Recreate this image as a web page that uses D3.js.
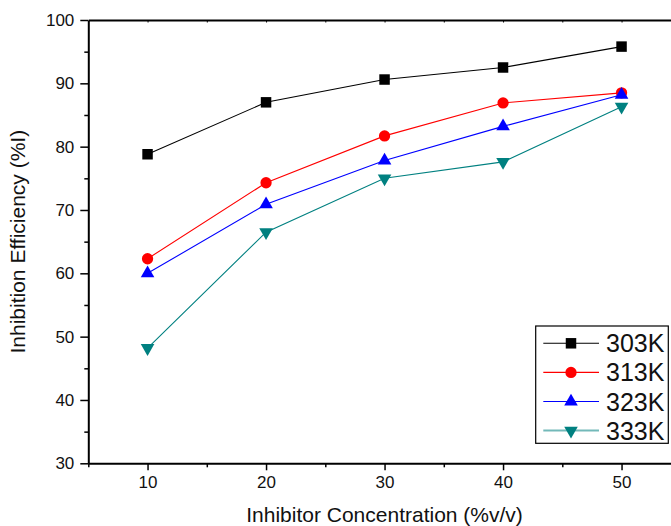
<!DOCTYPE html>
<html>
<head>
<meta charset="utf-8">
<script src="https://cdn.jsdelivr.net/npm/d3@7"></script>
<style>
  body { margin: 0; background: #fff; }
  svg { display: block; font-family: 'Liberation Sans', Arial, sans-serif; }
  .axis path, .axis line { stroke: #000; }
  .axis text { font-size: 17px; fill: #111; }
</style>
</head>
<body>
<svg id="chart" width="671" height="526"></svg>
<script>
const concentrations = [10, 20, 30, 40, 50]
const seriesNames = ['303K', '313K', '323K', '333K']
const ie303 = [78.8, 87.0, 90.6, 92.5, 95.8]
const ie313 = [62.3, 74.3, 81.7, 86.9, 88.5]
const ie323 = [60.0, 70.9, 77.8, 83.2, 88.2]
const ie333 = [48.2, 66.5, 75.0, 77.6, 86.3]
const yTicks = [30, 40, 50, 60, 70, 80, 90, 100]
const xTicks = [10, 20, 30, 40, 50]

const colors = ['#000000', '#ff0000', '#0000ff', '#008080']
const symbols = [d3.symbolSquare, d3.symbolCircle, d3.symbolTriangle, 'down']

const series = seriesNames.map((name, i) => ({
  name: name,
  color: colors[i],
  symbol: symbols[i],
  values: [ie303, ie313, ie323, ie333][i].map((v, j) => ({ x: concentrations[j], y: v }))
}))

const svg = d3.select('#chart')
const plotLeft = 88.3, plotRight = 680.8, plotTop = 20, plotBottom = 463.3

const x = d3.scaleLinear().domain([5, 55]).range([plotLeft, plotRight])
const y = d3.scaleLinear().domain([30, 100]).range([plotBottom, plotTop])

// minor ticks first so majors draw over
svg.append('g')
  .attr('class', 'axis')
  .attr('transform', 'translate(' + plotLeft + ',0)')
  .call(d3.axisLeft(y).tickValues(d3.range(35, 100, 10)).tickSize(4).tickFormat(''))
  .call(g => g.select('.domain').remove())
  .selectAll('line').attr('stroke-width', 1.5)

svg.append('g')
  .attr('class', 'axis')
  .attr('transform', 'translate(0,' + plotBottom + ')')
  .call(d3.axisBottom(x).tickValues([5, 15, 25, 35, 45, 55]).tickSize(4).tickFormat(''))
  .call(g => g.select('.domain').remove())
  .selectAll('line').attr('stroke-width', 1.5)

// top axis, small inner ticks
svg.append('g')
  .attr('class', 'axis')
  .attr('transform', 'translate(0,' + plotTop + ')')
  .call(d3.axisBottom(x).tickValues(d3.range(10, 55, 5)).tickSize(2.5).tickSizeOuter(0).tickFormat(''))
  .call(g => g.select('.domain').attr('stroke-width', 2))
  .selectAll('line').attr('stroke-width', 1)

svg.append('g')
  .attr('class', 'axis')
  .attr('transform', 'translate(' + plotLeft + ',0)')
  .call(d3.axisLeft(y).tickValues(yTicks).tickSize(8).tickSizeOuter(0).tickPadding(6))
  .call(g => g.select('.domain').attr('stroke-width', 2))
  .call(g => g.selectAll('line').attr('stroke-width', 1.5))

svg.append('g')
  .attr('class', 'axis')
  .attr('transform', 'translate(0,' + plotBottom + ')')
  .call(d3.axisBottom(x).tickValues(xTicks).tickSize(7).tickSizeOuter(0).tickPadding(6))
  .call(g => g.select('.domain').attr('stroke-width', 2))
  .call(g => g.selectAll('line').attr('stroke-width', 1.5))

// axis titles
svg.append('text')
  .attr('x', (plotLeft + plotRight) / 2)
  .attr('y', 522)
  .attr('text-anchor', 'middle')
  .attr('font-size', 21)
  .attr('fill', '#111')
  .text('Inhibitor Concentration (%v/v)')

svg.append('text')
  .attr('transform', 'translate(25,' + ((plotTop + plotBottom) / 2) + ') rotate(-90)')
  .attr('text-anchor', 'middle')
  .attr('font-size', 21)
  .attr('fill', '#111')
  .text('Inhibition Efficiency (%I)')

function markerPath(sym, size) {
  if (sym === 'down') {
    return d3.symbol(d3.symbolTriangle, size)()
  }
  return d3.symbol(sym, size)()
}

function markerSize(sym) {
  if (sym === d3.symbolSquare) return 110
  if (sym === d3.symbolCircle) return 100
  return 80
}

const line = d3.line().x(d => x(d.x)).y(d => y(d.y))

series.forEach(s => {
  const g = svg.append('g')
  g.append('path')
    .attr('d', line(s.values))
    .attr('fill', 'none')
    .attr('stroke', s.color)
    .attr('stroke-width', 1.1)
  g.selectAll('path.pt')
    .data(s.values)
    .enter()
    .append('path')
    .attr('class', 'pt')
    .attr('d', markerPath(s.symbol, markerSize(s.symbol)))
    .attr('transform', d => 'translate(' + x(d.x) + ',' + y(d.y) + ')' + (s.symbol === 'down' ? ' rotate(180)' : ''))
    .attr('fill', s.color)
})

// legend
const legend = svg.append('g')
legend.append('rect')
  .attr('x', 535.7)
  .attr('y', 326)
  .attr('width', 132.6)
  .attr('height', 117.3)
  .attr('fill', '#fff')
  .attr('stroke', '#000')
  .attr('stroke-width', 1.2)

const entry = legend.selectAll('g.entry')
  .data(series)
  .enter()
  .append('g')
  .attr('class', 'entry')
  .attr('transform', (d, i) => 'translate(0,' + (343.3 + i * 29.1) + ')')

entry.append('line')
  .attr('x1', 543.3)
  .attr('x2', 599)
  .attr('stroke', d => d.color)
  .attr('stroke-opacity', (d, i) => i === 3 ? 0.55 : 1)
  .attr('stroke-width', (d, i) => i === 3 ? 2 : 1.1)

entry.append('path')
  .attr('d', d => markerPath(d.symbol, markerSize(d.symbol)))
  .attr('transform', d => 'translate(571,0)' + (d.symbol === 'down' ? ' rotate(180)' : ''))
  .attr('fill', d => d.color)

entry.append('text')
  .attr('x', 606)
  .attr('y', 9)
  .attr('font-size', 25)
  .attr('fill', '#111')
  .text(d => d.name)
</script>
</body>
</html>
